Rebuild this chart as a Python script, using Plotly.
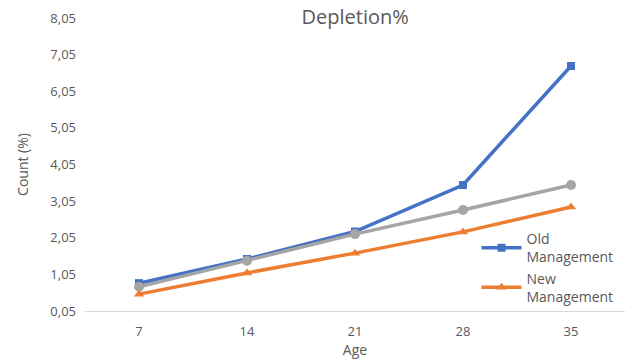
import plotly.graph_objects as go

ages = ["7", "14", "21", "28", "35"]
old_mgmt = [0.81, 1.47, 2.22, 3.49, 6.74]
baseline = [0.71, 1.42, 2.15, 2.81, 3.49]
new_mgmt = [0.51, 1.09, 1.63, 2.21, 2.89]
y_ticks = [0.05, 1.05, 2.05, 3.05, 4.05, 5.05, 6.05, 7.05, 8.05]
y_tick_text = [f"{v:.2f}".replace(".", ",") for v in y_ticks]

font_family = "Open Sans, Liberation Sans, sans-serif"
text_grey = "#595959"

fig = go.Figure()
fig.add_trace(go.Scatter(
    x=ages, y=old_mgmt, name="Old<br>Management", mode="lines+markers",
    line=dict(color="#4472C4", width=3.5),
    marker=dict(symbol="square", size=8, color="#4472C4"),
))
fig.add_trace(go.Scatter(
    x=ages, y=baseline, name="Baseline", mode="lines+markers", showlegend=False,
    line=dict(color="#A5A5A5", width=3.5),
    marker=dict(symbol="circle", size=10, color="#A5A5A5"),
))
fig.add_trace(go.Scatter(
    x=ages, y=new_mgmt, name="New<br>Management", mode="lines+markers",
    line=dict(color="#ED7D31", width=3.5),
    marker=dict(symbol="triangle-up", size=9, color="#ED7D31"),
))

fig.update_layout(
    width=627, height=360,
    margin=dict(l=85, r=2, t=18, b=49),
    paper_bgcolor="white", plot_bgcolor="white",
    font=dict(family=font_family, color=text_grey, size=13),
    title=dict(text="Depletion%", x=0.5665, xanchor="center", y=0.952, yanchor="middle",
               font=dict(size=20, color=text_grey)),
    xaxis=dict(
        type="category", range=[-0.5, 4.5], showgrid=False, showline=True,
        linecolor="#D9D9D9", linewidth=1,
        ticks="", ticklabelstandoff=8, tickfont=dict(size=13, color=text_grey),
        title=dict(text="Age", font=dict(size=14, color=text_grey), standoff=0),
    ),
    yaxis=dict(
        range=[0.05, 8.05], tickvals=y_ticks, ticktext=y_tick_text,
        showgrid=False, zeroline=False, showline=False, ticks="",
        ticklabelstandoff=8, tickfont=dict(size=13, color=text_grey),
        title=dict(text="Count (%)", font=dict(size=14, color=text_grey), standoff=18),
    ),
    legend=dict(
        x=0.725, y=0.30, xanchor="left", yanchor="top",
        bgcolor="rgba(255,255,255,0)", font=dict(size=14, color=text_grey),
        tracegroupgap=2, itemwidth=40,
    ),
)

fig.write_html("out.html")
